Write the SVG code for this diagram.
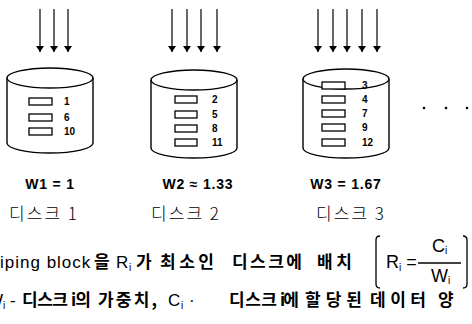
<svg xmlns="http://www.w3.org/2000/svg" width="472" height="324" viewBox="0 0 472 324">
<defs>
<marker id="ah" viewBox="0 0 6 9" refX="6" refY="4.5" markerWidth="6" markerHeight="9" markerUnits="userSpaceOnUse" orient="auto">
<path d="M0,0.5 L6,4.5 L0,8.5 Z" fill="#000"/>
</marker>
</defs>
<style>
.cyl{fill:#fff;stroke:#000;stroke-width:1.4}
.blk{fill:#fff;stroke:#000;stroke-width:1.3}
.arr{stroke:#000;stroke-width:1.2;fill:none}
.num{font-family:"Liberation Sans",Arial,sans-serif;font-weight:bold;font-size:10px;fill:#000}
.w{font-family:"Liberation Sans",Arial,sans-serif;font-weight:bold;font-size:14px;letter-spacing:0.8px;fill:#000}
.ko{font-family:"Noto Sans CJK KR",sans-serif;font-weight:300;font-size:17px;fill:#000;letter-spacing:2px}
.t{font-family:"Liberation Sans",Arial,sans-serif;font-size:17px;fill:#000}
.tk{font-family:"Noto Sans CJK KR",sans-serif;font-weight:700;font-size:17px;fill:#000}
.f{font-family:"Liberation Sans",Arial,sans-serif;font-size:18px;fill:#000}
.sub{font-family:"Liberation Sans",Arial,sans-serif;font-size:10px;fill:#000}
</style>

<g id="connectors">
<line class="arr" x1="40" y1="9" x2="40" y2="52" marker-end="url(#ah)"/>
<line class="arr" x1="54" y1="9" x2="54" y2="52" marker-end="url(#ah)"/>
<line class="arr" x1="68" y1="9" x2="68" y2="52" marker-end="url(#ah)"/>
<line class="arr" x1="172" y1="9" x2="172" y2="52" marker-end="url(#ah)"/>
<line class="arr" x1="187" y1="9" x2="187" y2="52" marker-end="url(#ah)"/>
<line class="arr" x1="201" y1="9" x2="201" y2="52" marker-end="url(#ah)"/>
<line class="arr" x1="217" y1="9" x2="217" y2="52" marker-end="url(#ah)"/>
<line class="arr" x1="318" y1="9" x2="318" y2="52" marker-end="url(#ah)"/>
<line class="arr" x1="333" y1="9" x2="333" y2="52" marker-end="url(#ah)"/>
<line class="arr" x1="347" y1="9" x2="347" y2="52" marker-end="url(#ah)"/>
<line class="arr" x1="362" y1="9" x2="362" y2="52" marker-end="url(#ah)"/>
<line class="arr" x1="377" y1="9" x2="377" y2="52" marker-end="url(#ah)"/>
</g>

<g id="disk1">
<path class="cyl" d="M7,78 L7,143 A43,10 0 0 0 93,143 L93,78"/>
<ellipse class="cyl" cx="50" cy="78" rx="43" ry="10"/>
<rect class="blk" x="29" y="98" width="23" height="7"/>
<rect class="blk" x="29" y="114" width="23" height="7"/>
<rect class="blk" x="29" y="128" width="23" height="7"/>
<text class="num" x="64" y="105">1</text>
<text class="num" x="64" y="121">6</text>
<text class="num" x="64" y="135">10</text>
<text class="w" x="50" y="189" text-anchor="middle">W1 = 1</text>
<text class="ko" x="44" y="220" text-anchor="middle">디스크 1</text>
</g>

<g id="disk2">
<path class="cyl" d="M151,80 L151,148 A43,10 0 0 0 237,148 L237,80"/>
<ellipse class="cyl" cx="194" cy="80" rx="43" ry="10"/>
<rect class="blk" x="175" y="96" width="22" height="7"/>
<rect class="blk" x="175" y="111" width="22" height="7"/>
<rect class="blk" x="175" y="125" width="22" height="7"/>
<rect class="blk" x="175" y="139" width="22" height="7"/>
<text class="num" x="212" y="103">2</text>
<text class="num" x="212" y="118">5</text>
<text class="num" x="212" y="132">8</text>
<text class="num" x="212" y="146">11</text>
<text class="w" x="198" y="189" text-anchor="middle">W2 ≈ 1.33</text>
<text class="ko" x="186" y="220" text-anchor="middle">디스크 2</text>
</g>

<g id="disk3">
<path class="cyl" d="M303,79 L303,148 A43,10 0 0 0 389,148 L389,79"/>
<ellipse class="cyl" cx="346" cy="79" rx="43" ry="10"/>
<rect class="blk" x="322" y="82" width="23" height="7"/>
<rect class="blk" x="322" y="96" width="23" height="7"/>
<rect class="blk" x="322" y="110" width="23" height="7"/>
<rect class="blk" x="322" y="124" width="23" height="7"/>
<rect class="blk" x="322" y="139" width="23" height="7"/>
<text class="num" x="362" y="89">3</text>
<text class="num" x="362" y="103">4</text>
<text class="num" x="362" y="117">7</text>
<text class="num" x="362" y="131">9</text>
<text class="num" x="362" y="146">12</text>
<text class="w" x="346" y="189" text-anchor="middle">W3 = 1.67</text>
<text class="ko" x="351" y="220" text-anchor="middle">디스크 3</text>
</g>

<g id="ellipsis">
<circle cx="424" cy="108" r="1.3"/>
<circle cx="446" cy="108" r="1.3"/>
<circle cx="467" cy="108" r="1.3"/>
</g>

<g id="caption">
<text class="t" x="0" y="268" letter-spacing="1">iping block</text>
<text class="tk" x="94" y="268">을</text>
<text class="t" x="116" y="268">R<tspan class="sub" x="129" dy="3">i</tspan></text>
<text class="tk" x="136" y="268">가</text>
<text class="tk" x="160" y="268" textLength="54">최소인</text>
<text class="tk" x="232" y="268" textLength="70">디스크에</text>
<text class="tk" x="317" y="268" textLength="35">배치</text>

<text class="t" x="-13" y="306">W<tspan class="sub" x="3" dy="3">i</tspan><tspan x="10" dy="-3">-</tspan></text>
<text class="tk" x="22" y="306" textLength="46">디스크</text>
<text class="tk" x="71" y="306" textLength="20">i의</text>
<text class="tk" x="98" y="306" textLength="59">가중치,</text>
<text class="t" x="168" y="306">C<tspan class="sub" x="181" dy="3">i</tspan><tspan x="189" dy="-3">·</tspan></text>
<text class="tk" x="229" y="306" textLength="48">디스크</text>
<text class="tk" x="280" y="306" textLength="19">i에</text>
<text class="tk" x="305" y="306" textLength="57">할당된</text>
<text class="tk" x="370" y="306" textLength="56">데이터</text>
<text class="tk" x="438" y="306">양</text>
</g>

<g id="formula">
<path d="M380,236 Q376,236 376,240 L376,284 Q376,288 380,288" fill="none" stroke="#000" stroke-width="1.3"/>
<path d="M463,236 Q467,236 467,240 L467,284 Q467,288 463,288" fill="none" stroke="#000" stroke-width="1.3"/>
<text class="f" x="386" y="268">R<tspan class="sub" dy="3">i</tspan><tspan dy="-3" dx="5">=</tspan></text>
<line x1="418" y1="263" x2="461" y2="263" stroke="#000" stroke-width="1.3"/>
<text class="f" x="432" y="252">C<tspan class="sub" dy="2">i</tspan></text>
<text class="f" x="431" y="282">W<tspan class="sub" dy="2">i</tspan></text>
</g>
</svg>
